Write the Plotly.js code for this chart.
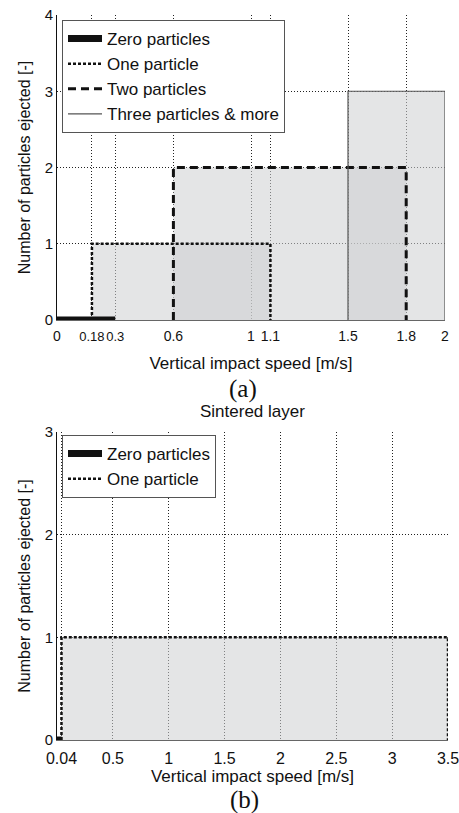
<!DOCTYPE html>
<html><head><meta charset="utf-8">
<script src="https://cdn.plot.ly/plotly-3.0.1.min.js"></script>
<style>html,body{margin:0;padding:0;background:#fff}#chart{width:459px;height:813px}</style>
</head><body><div id="chart"></div>
<script>
// ---- Data (a) ----
const ticksA = [0, 0.18, 0.3, 0.6, 1, 1.1, 1.5, 1.8, 2];
const tickTextA = ['0', '0.18', '0.3', '0.6', '1', '1.1', '1.5', '1.8', '2'];
const zeroAx = [0, 0.3], zeroAy = [0, 0];
const oneAx = [0.18, 0.18, 1.1, 1.1], oneAy = [0, 1, 1, 0];
const twoAx = [0.6, 0.6, 1.8, 1.8], twoAy = [0, 2, 2, 0];
const threeAx = [1.5, 1.5, 2, 2], threeAy = [0, 3, 3, 0];
// ---- Data (b) ----
const ticksB = [0.04, 0.5, 1, 1.5, 2, 2.5, 3, 3.5];
const tickTextB = ['0.04', '0.5', '1', '1.5', '2', '2.5', '3', '3.5'];
const zeroBx = [0, 0.04], zeroBy = [0, 0];
const oneBx = [0.04, 0.04, 3.5, 3.5], oneBy = [0, 1, 1, 0];

const names = ['Zero particles', 'One particle', 'Two particles', 'Three particles &amp; more'];
const FILL = 'rgba(206,207,210,0.55)';
const FONT = 'Liberation Sans, Arial, sans-serif';
const SERIF = 'Liberation Serif, Times New Roman, serif';

function fillTrace(x, y, xa, ya) {
  return {x: x, y: y, xaxis: xa, yaxis: ya, type: 'scatter', mode: 'lines', fill: 'toself',
    fillcolor: FILL, line: {width: 0}, showlegend: false, hoverinfo: 'skip'};
}
function lineTrace(x, y, xa, ya, name, line, legend) {
  return {x: x, y: y, xaxis: xa, yaxis: ya, type: 'scatter', mode: 'lines', name: name,
    line: line, legend: legend};
}
const zeroLine = {color: '#111', width: 7};
const oneLine = {color: '#111', width: 2.5, dash: '3px,2px'};
const twoLine = {color: '#111', width: 3, dash: '8px,5px'};
const threeLine = {color: '#555', width: 1.2};

const data = [
  fillTrace(oneAx, oneAy, 'x', 'y'),
  fillTrace(twoAx, twoAy, 'x', 'y'),
  fillTrace(threeAx, threeAy, 'x', 'y'),
  fillTrace(oneBx, oneBy, 'x2', 'y2'),
  lineTrace(zeroAx, zeroAy, 'x', 'y', names[0], zeroLine, 'legend'),
  lineTrace(oneAx, oneAy, 'x', 'y', names[1], oneLine, 'legend'),
  lineTrace(twoAx, twoAy, 'x', 'y', names[2], twoLine, 'legend'),
  lineTrace(threeAx, threeAy, 'x', 'y', names[3], threeLine, 'legend'),
  lineTrace(zeroBx, zeroBy, 'x2', 'y2', names[0], zeroLine, 'legend2'),
  lineTrace(oneBx, oneBy, 'x2', 'y2', names[1], oneLine, 'legend2')
];

const W = 459, H = 813;
const px = v => v / W, py = v => 1 - v / H;
const gridCommon = {showgrid: true, gridcolor: '#222', griddash: '1px,2px', gridwidth: 1,
  zeroline: false, ticks: '', tickangle: 0, ticklabeloverflow: 'allow'};
const legendCommon = {bgcolor: '#fff', bordercolor: '#555', borderwidth: 1,
  font: {family: FONT, size: 17, color: '#111'}, xanchor: 'left', yanchor: 'top',
  tracegroupgap: 0, itemwidth: 34};
const titleFont = {family: FONT, size: 17, color: '#111'};
const yTitleFont = {family: FONT, size: 16, color: '#111'};
// the two crowded labels (0.18 and 0.3) are set slightly smaller so they do not touch
const crowded = ['0.18', '0.3'];

const layout = {
  width: W, height: H, margin: {l: 0, r: 0, t: 0, b: 0},
  paper_bgcolor: '#fff', plot_bgcolor: '#fff', showlegend: true,
  xaxis: Object.assign({}, gridCommon, {domain: [px(57), px(445)], range: [0, 2], anchor: 'y',
    tickmode: 'array', tickvals: ticksA,
    ticktext: tickTextA.map(t => crowded.includes(t) ? '<span style="font-size:13px">' + t + '</span>' : t),
    tickfont: {family: FONT, size: 14, color: '#111'}, ticklabelstandoff: 3,
    showline: true, linecolor: '#666', linewidth: 1,
    title: {text: 'Vertical impact speed [m/s]', font: titleFont, standoff: 14}}),
  yaxis: Object.assign({}, gridCommon, {domain: [py(320), py(15)], range: [0, 4], anchor: 'x',
    tickmode: 'array', tickvals: [0, 1, 2, 3, 4], tickfont: {family: FONT, size: 15, color: '#111'},
    showline: true, linecolor: '#111', linewidth: 1,
    title: {text: 'Number of particles ejected [-]', font: yTitleFont, standoff: 10}}),
  xaxis2: Object.assign({}, gridCommon, {domain: [px(57), px(448)], range: [0, 3.5], anchor: 'y2',
    tickmode: 'array', tickvals: ticksB, ticktext: tickTextB,
    tickfont: {family: FONT, size: 16, color: '#111'}, ticklabelstandoff: 4,
    showline: true, linecolor: '#666', linewidth: 1,
    title: {text: 'Vertical impact speed [m/s]', font: titleFont, standoff: 0}}),
  yaxis2: Object.assign({}, gridCommon, {domain: [py(740), py(432)], range: [0, 3], anchor: 'x2',
    tickmode: 'array', tickvals: [0, 1, 2, 3], tickfont: {family: FONT, size: 15, color: '#111'},
    showline: true, linecolor: '#111', linewidth: 1,
    title: {text: 'Number of particles ejected [-]', font: yTitleFont, standoff: 10}}),
  legend: Object.assign({}, legendCommon, {x: px(62), y: py(20)}),
  legend2: Object.assign({}, legendCommon, {x: px(62), y: py(435)}),
  annotations: [
    {text: '(a)', xref: 'paper', yref: 'paper', x: px(243), y: py(389), showarrow: false,
      xanchor: 'center', yanchor: 'middle', font: {family: SERIF, size: 25, color: '#111'}},
    {text: 'Sintered layer', xref: 'paper', yref: 'paper', x: px(253), y: py(411), showarrow: false,
      xanchor: 'center', yanchor: 'middle', font: {family: FONT, size: 17, color: '#111'}},
    {text: '(b)', xref: 'paper', yref: 'paper', x: px(245), y: py(800), showarrow: false,
      xanchor: 'center', yanchor: 'middle', font: {family: SERIF, size: 25, color: '#111'}}
  ]
};
Plotly.newPlot('chart', data, layout, {staticPlot: true});
</script></body></html>
